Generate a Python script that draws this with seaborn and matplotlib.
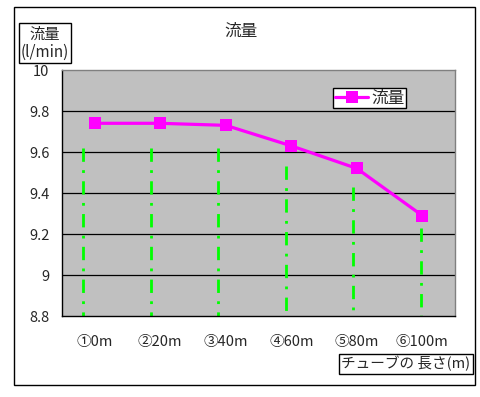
import numpy as np
import pandas as pd
import matplotlib.pyplot as plt
import matplotlib.patches as mpatches
import seaborn as sns

# Daten
categories = ["①0m", "②20m", "③40m", "④60m", "⑤80m", "⑥100m"]
flow = [9.74, 9.74, 9.73, 9.63, 9.52, 9.29]
# Oberkante der grünen Hilfslinien
drop_tops = [9.62, 9.62, 9.62, 9.53, 9.43, 9.23]
y_ticks = [8.8, 9, 9.2, 9.4, 9.6, 9.8, 10]
y_ticklabels = ["8.8", "9", "9.2", "9.4", "9.6", "9.8", "10"]

df = pd.DataFrame({"pos": np.arange(len(categories)), "流量": flow})

sns.set_style("white")
plt.rcParams["font.family"] = ["Noto Sans CJK JP", "DejaVu Sans"]

fig = plt.figure(figsize=(4.8, 3.97), dpi=100)
ax = fig.add_axes([62 / 480, 1 - 316 / 397, 393 / 480, 246 / 397])
ax.set_facecolor("#C0C0C0")

# Rahmen um die ganze Grafik
fig.patches.append(mpatches.Rectangle((14 / 480, 1 - 385 / 397), 461 / 480, 378 / 397,
                                      transform=fig.transFigure, fill=False,
                                      edgecolor="black", linewidth=1))

ax.set_xlim(-0.5, len(categories) - 0.5)
ax.set_ylim(8.8, 10)
for yv in y_ticks[1:-1]:
    ax.axhline(yv, color="black", linewidth=0.9, zorder=1)

# grüne Strichpunkt-Linien (leicht nach links versetzt wie im Original)
drop_x = np.arange(len(categories)) * 1.032 - 0.18
for xv, top in zip(drop_x, drop_tops):
    ax.plot([xv, xv], [top, 8.8], color="#00FF00", linewidth=2,
            dashes=(4.8, 3.0, 1.0, 3.0), zorder=2)

sns.lineplot(data=df, x="pos", y="流量", ax=ax, color="#FF00FF", linewidth=2.3,
             marker="s", markersize=9, markeredgewidth=0, label="流量", zorder=3)

ax.set_xticks(df["pos"])
ax.set_xticklabels(categories, fontsize=10.5)
ax.set_xticks(np.arange(0.5, len(categories) - 1, 1), minor=True)
ax.tick_params(axis="x", which="major", length=0, pad=14)
ax.tick_params(axis="x", which="minor", direction="out", length=3.5, width=0.9, color="black")
ax.set_yticks(y_ticks)
ax.set_yticklabels(y_ticklabels, fontsize=10.5)
ax.tick_params(axis="y", length=0, pad=9)
ax.set_xlabel("")
ax.set_ylabel("")

for side in ["left", "bottom"]:
    ax.spines[side].set_color("black")
    ax.spines[side].set_linewidth(1)
for side in ["top", "right"]:
    ax.spines[side].set_color("#808080")
    ax.spines[side].set_linewidth(1)

leg = ax.legend(loc="upper left", bbox_to_anchor=(0.69, 0.927), borderaxespad=0,
                fancybox=False, framealpha=1, edgecolor="black", fontsize=12,
                handlelength=2.0, handletextpad=0.2, borderpad=0.1)
leg.get_frame().set_linewidth(1)

fig.text(241 / 480, 1 - 31 / 397, "流量", ha="center", va="center", fontsize=12)
fig.text(45 / 480, 1 - 43 / 397, "流量\n(l/min)", ha="center", va="center", fontsize=11,
         linespacing=1.1,
         bbox=dict(boxstyle="square,pad=0.15", facecolor="white", edgecolor="black", linewidth=1))
fig.text(406 / 480, 1 - 364 / 397, "チューブの 長さ(m)", ha="center", va="center", fontsize=10.5,
         bbox=dict(boxstyle="square,pad=0.15", facecolor="white", edgecolor="black", linewidth=1))

fig.savefig("out.png", dpi=100)
